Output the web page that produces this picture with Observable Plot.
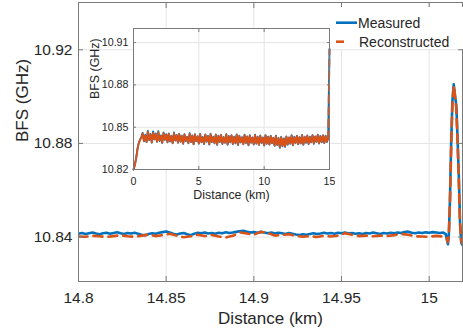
<!DOCTYPE html>
<html><head><meta charset="utf-8">
<script src="https://cdn.jsdelivr.net/npm/d3@7"></script>
<script src="https://cdn.jsdelivr.net/npm/@observablehq/plot@0.6"></script>
<style>
body{margin:0;background:#fff;}
#wrap{position:relative;width:463px;height:330px;font-family:"Liberation Sans",Arial,sans-serif;overflow:hidden;}
#main,#inset,#legend{position:absolute;}
#main{left:0;top:0}
#inset{left:85px;top:20px}
#legend{left:333px;top:7px;width:130px;height:42px;background:#fff}
</style></head>
<body><div id="wrap"><div id="main"></div><div id="inset"></div><div id="legend"></div></div>
<script>
// ---------- data ----------
const seriesNames = ["Measured", "Reconstructed"];
const seriesColors = ["#0072BD", "#D95319"];

const mainTicksX = [14.8, 14.85, 14.9, 14.95, 15];
const mainTicksY = [10.84, 10.88, 10.92];
const insetTicksX = [0, 5, 10, 15];
const insetTicksY = [10.82, 10.85, 10.88, 10.91];

// main view: measured, sampled every 0.002 km from 14.800 km
const mainMeasuredStart = 14.8, mainMeasuredStep = 0.002;
const mainMeasuredBase = [
 10.8414,10.8417,10.8413,10.8416,10.8419,10.8415,10.8412,10.8416,10.8418,10.8414,
 10.8417,10.8420,10.8416,10.8413,10.8417,10.8415,10.8418,10.8414,10.8410,10.8408,
 10.8413,10.8416,10.8414,10.8418,10.8421,10.8424,10.8419,10.8414,10.8411,10.8415,
 10.8417,10.8412,10.8408,10.8414,10.8418,10.8416,10.8419,10.8415,10.8417,10.8414,
 10.8418,10.8416,10.8420,10.8417,10.8419,10.8422,10.8425,10.8427,10.8423,10.8419,
 10.8421,10.8418,10.8422,10.8419,10.8416,10.8419,10.8415,10.8418,10.8416,10.8413,
 10.8417,10.8414,10.8411,10.8409,10.8412,10.8410,10.8413,10.8416,10.8413,10.8415,
 10.8418,10.8415,10.8417,10.8414,10.8418,10.8416,10.8419,10.8415,10.8417,10.8414,
 10.8416,10.8413,10.8417,10.8415,10.8419,10.8416,10.8413,10.8417,10.8415,10.8418,
 10.8416,10.8419,10.8417,10.8421,10.8423,10.8418,10.8416,10.8419,10.8417,10.8420,
 10.8418,10.8421,10.8419,10.8417,10.8419];
const mainMeasuredPeakX = [15.0095,15.0102,15.0107,15.0112,15.0118,15.0125,15.0132,15.0140,15.0148,15.0155,15.0162,15.0169,15.0176,15.0183,15.0190];
const mainMeasuredPeakY = [10.8412,10.8385,10.8369,10.8410,10.8545,10.8790,10.8975,10.9052,10.9000,10.8960,10.8820,10.8660,10.8460,10.8375,10.8366];

// main view: reconstructed, sampled every 0.004 km from 14.800 km
const mainReconStart = 14.8, mainReconStep = 0.004;
const mainReconBase = [
 10.8402,10.8401,10.8405,10.8403,10.8400,10.8404,10.8408,10.8403,10.8401,10.8406,
 10.8410,10.8404,10.8408,10.8414,10.8406,10.8399,10.8403,10.8410,10.8404,10.8409,
 10.8402,10.8398,10.8405,10.8420,10.8415,10.8410,10.8422,10.8418,10.8406,10.8409,
 10.8412,10.8405,10.8401,10.8404,10.8400,10.8405,10.8402,10.8406,10.8416,10.8410,
 10.8404,10.8406,10.8403,10.8406,10.8404,10.8408,10.8413,10.8410,10.8403,10.8402,
 10.8401,10.8405,10.8402];
const mainReconPeakX = [15.0100,15.0106,15.0112,15.0119,15.0126,15.0133,15.0140,15.0147,15.0154,15.0161,15.0168,15.0175,15.0182,15.0190];
const mainReconPeakY = [10.8395,10.8378,10.8405,10.8560,10.8800,10.8980,10.9048,10.9005,10.8955,10.8825,10.8665,10.8470,10.8385,10.8372];

// inset: whole fibre, sampled every 0.1 km from 0 to 15 km
const insetStart = 0, insetStep = 0.1;
const insetMeasured = [
 10.8200,10.8232,10.8280,10.8345,10.8388,10.8412,10.8430,
 10.8460,10.8400,10.8446,10.8394,10.8474,10.8408,10.8452,10.8390,10.8470,10.8412,
 10.8455,10.8396,10.8472,10.8402,10.8442,10.8388,10.8462,10.8410,10.8451,10.8392,
 10.8456,10.8398,10.8440,10.8385,10.8462,10.8406,10.8445,10.8389,10.8453,10.8396,
 10.8440,10.8382,10.8451,10.8400,10.8433,10.8386,10.8458,10.8394,10.8441,10.8378,
 10.8450,10.8400,10.8436,10.8383,10.8452,10.8393,10.8431,10.8381,10.8449,10.8397,
 10.8438,10.8377,10.8453,10.8395,10.8432,10.8385,10.8448,10.8375,10.8440,10.8395,
 10.8446,10.8381,10.8430,10.8389,10.8451,10.8376,10.8437,10.8392,10.8443,10.8380,
 10.8433,10.8386,10.8449,10.8373,10.8439,10.8391,10.8429,10.8378,10.8446,10.8387,
 10.8435,10.8371,10.8443,10.8389,10.8428,10.8377,10.8447,10.8383,10.8432,10.8374,
 10.8441,10.8388,10.8427,10.8370,10.8444,10.8382,10.8433,10.8376,10.8439,10.8385,
 10.8426,10.8368,10.8440,10.8373,10.8423,10.8354,10.8431,10.8365,10.8421,10.8360,
 10.8435,10.8375,10.8428,10.8383,10.8443,10.8372,10.8431,10.8387,10.8439,10.8378,
 10.8430,10.8384,10.8445,10.8375,10.8433,10.8389,10.8441,10.8380,10.8432,10.8392,
 10.8444,10.8382,10.8435,10.8395,10.8447,10.8384,10.8438,10.8393,10.8443,10.8387,
 10.8439,10.8395,10.8424,
 10.9055];
const insetRecon = [
 10.8200,10.8228,10.8275,10.8340,10.8385,10.8410,10.8425,
 10.8455,10.8402,10.8440,10.8396,10.8466,10.8410,10.8448,10.8392,10.8460,10.8415,
 10.8450,10.8398,10.8465,10.8405,10.8438,10.8390,10.8458,10.8412,10.8447,10.8395,
 10.8452,10.8401,10.8436,10.8388,10.8455,10.8408,10.8442,10.8391,10.8450,10.8399,
 10.8437,10.8385,10.8448,10.8403,10.8430,10.8389,10.8452,10.8396,10.8438,10.8381,
 10.8447,10.8402,10.8433,10.8386,10.8449,10.8395,10.8428,10.8384,10.8446,10.8400,
 10.8435,10.8380,10.8450,10.8397,10.8429,10.8388,10.8445,10.8378,10.8437,10.8398,
 10.8443,10.8384,10.8427,10.8392,10.8448,10.8379,10.8434,10.8395,10.8440,10.8383,
 10.8430,10.8389,10.8446,10.8376,10.8436,10.8394,10.8426,10.8381,10.8443,10.8390,
 10.8432,10.8374,10.8440,10.8392,10.8425,10.8380,10.8444,10.8386,10.8429,10.8377,
 10.8438,10.8391,10.8424,10.8373,10.8441,10.8385,10.8430,10.8379,10.8436,10.8388,
 10.8423,10.8371,10.8437,10.8376,10.8420,10.8360,10.8428,10.8368,10.8418,10.8364,
 10.8432,10.8378,10.8425,10.8386,10.8440,10.8375,10.8428,10.8390,10.8436,10.8381,
 10.8427,10.8387,10.8442,10.8378,10.8430,10.8392,10.8438,10.8383,10.8429,10.8395,
 10.8441,10.8385,10.8432,10.8398,10.8444,10.8387,10.8435,10.8396,10.8440,10.8390,
 10.8436,10.8398,10.8420,
 10.9050];

// ---------- build rows ----------
const grid = (start, step, ys) => ys.map((y, i) => ({x: +(start + i * step).toFixed(4), y}));
const pairs = (xs, ys) => xs.map((x, i) => ({x, y: ys[i]}));
const mainMeasured = grid(mainMeasuredStart, mainMeasuredStep, mainMeasuredBase).concat(pairs(mainMeasuredPeakX, mainMeasuredPeakY));
const mainRecon = grid(mainReconStart, mainReconStep, mainReconBase).concat(pairs(mainReconPeakX, mainReconPeakY));
const inMeasured = grid(insetStart, insetStep, insetMeasured);
const inRecon = grid(insetStart, insetStep, insetRecon);

const textColor = "#262626", frameColor = "#7a7a7a", gridColor = "#e4e4e4";
const fmt = d => String(d);

// ---------- main chart ----------
const main = Plot.plot({
  width: 463, height: 330,
  marginLeft: 78, marginRight: 1, marginTop: 2, marginBottom: 49,
  x: {domain: [14.8, 15.019]},
  y: {domain: [10.821, 10.9402]},
  style: {fontFamily: '"Liberation Sans", Arial, sans-serif', color: textColor, background: "transparent"},
  marks: [
    Plot.gridX(mainTicksX, {stroke: gridColor, strokeOpacity: 1}),
    Plot.gridY(mainTicksY, {stroke: gridColor, strokeOpacity: 1}),
    Plot.line(mainMeasured, {x: "x", y: "y", stroke: seriesColors[0], strokeWidth: 2.6, clip: true}),
    Plot.line(mainRecon, {x: "x", y: "y", stroke: seriesColors[1], strokeWidth: 2.6, strokeDasharray: "9,6", clip: true}),
    Plot.axisX(mainTicksX, {anchor: "bottom", tickSize: 5, dy: -5, fill: "none", stroke: frameColor}),
    Plot.axisX(mainTicksX, {anchor: "top", tickSize: 5, dy: 5, fill: "none", stroke: frameColor}),
    Plot.axisY(mainTicksY, {anchor: "left", tickSize: 5, dx: 5, fill: "none", stroke: frameColor}),
    Plot.axisY(mainTicksY, {anchor: "right", tickSize: 5, dx: -5, fill: "none", stroke: frameColor}),
    Plot.axisX(mainTicksX, {anchor: "bottom", tickSize: 0, tickPadding: 10, tickFormat: fmt, fontSize: 15.5, label: null}),
    Plot.axisY(mainTicksY, {anchor: "left", tickSize: 0, tickPadding: 6, tickFormat: fmt, fontSize: 15.5, label: null}),
    Plot.text(["Distance (km)"], {text: d => d, frameAnchor: "bottom", dy: 37, fontSize: 17, lineAnchor: "middle"}),
    Plot.text(["BFS (GHz)"], {text: d => d, frameAnchor: "left", dx: -56, rotate: -90, fontSize: 17, lineAnchor: "middle"}),
    Plot.frame({stroke: frameColor})
  ]
});
document.getElementById("main").appendChild(main);

// ---------- inset ----------
const inset = Plot.plot({
  width: 250, height: 185,
  marginLeft: 48, marginRight: 6, marginTop: 8, marginBottom: 36,
  x: {domain: [0, 15]},
  y: {domain: [10.82, 10.92]},
  style: {fontFamily: '"Liberation Sans", Arial, sans-serif', color: textColor, background: "transparent"},
  marks: [
    Plot.frame({fill: "white"}),
    Plot.gridX(insetTicksX, {stroke: gridColor, strokeOpacity: 1}),
    Plot.gridY(insetTicksY, {stroke: gridColor, strokeOpacity: 1}),
    Plot.line(inMeasured, {x: "x", y: "y", stroke: seriesColors[0], strokeWidth: 1.9}),
    Plot.line(inRecon.slice(0, inRecon.length - 1), {x: "x", y: "y", stroke: seriesColors[1], strokeWidth: 1.9}),
    Plot.line(inRecon.slice(inRecon.length - 2), {x: "x", y: "y", stroke: seriesColors[1], strokeWidth: 1.9, strokeDasharray: "7,5"}),
    Plot.axisX(insetTicksX, {anchor: "bottom", tickSize: 3, dy: -3, fill: "none", stroke: frameColor}),
    Plot.axisX(insetTicksX, {anchor: "top", tickSize: 3, dy: 3, fill: "none", stroke: frameColor}),
    Plot.axisY(insetTicksY, {anchor: "left", tickSize: 3, dx: 3, fill: "none", stroke: frameColor}),
    Plot.axisY(insetTicksY, {anchor: "right", tickSize: 3, dx: -3, fill: "none", stroke: frameColor}),
    Plot.axisX(insetTicksX, {anchor: "bottom", tickSize: 0, tickPadding: 8, tickFormat: fmt, fontSize: 10.7, label: null}),
    Plot.axisY(insetTicksY, {anchor: "left", tickSize: 0, tickPadding: 5, tickFormat: fmt, fontSize: 10.7, label: null}),
    Plot.text(["Distance (km)"], {text: d => d, frameAnchor: "bottom", dy: 26, fontSize: 12.4, lineAnchor: "middle"}),
    Plot.text(["BFS (GHz)"], {text: d => d, frameAnchor: "left", dx: -38, rotate: -90, fontSize: 12.4, lineAnchor: "middle"}),
    Plot.frame({stroke: frameColor})
  ]
});
document.getElementById("inset").appendChild(inset);

// ---------- legend ----------
document.getElementById("legend").innerHTML =
  `<svg width="130" height="42" style="font-family:'Liberation Sans',Arial,sans-serif">
    <line x1="3" x2="24" y1="15.7" y2="15.7" stroke="${seriesColors[0]}" stroke-width="2.6"/>
    <text x="25" y="21" font-size="14" fill="${textColor}">${seriesNames[0]}</text>
    <line x1="3" x2="11" y1="34.7" y2="34.7" stroke="${seriesColors[1]}" stroke-width="2.6"/>
    <text x="26" y="39.5" font-size="14" fill="${textColor}">${seriesNames[1]}</text>
  </svg>`;
</script>
</body></html>
